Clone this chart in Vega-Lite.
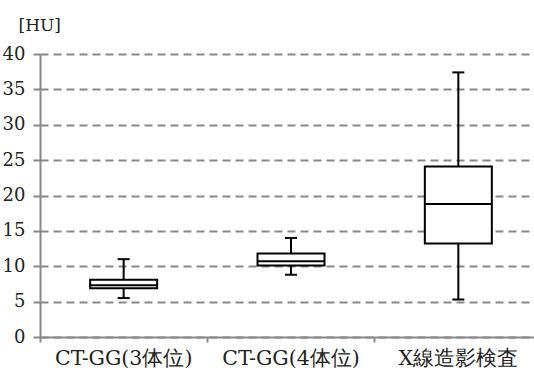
{
  "$schema": "https://vega.github.io/schema/vega-lite/v6.json",
  "width": 494,
  "height": 283,
  "autosize": {"type": "none"},
  "padding": {"left": 40, "top": 54, "right": 0, "bottom": 35},
  "background": "white",
  "config": {
    "view": {"stroke": null},
    "axisY": {
      "tickCount": 8,
      "labelFont": "DejaVu Serif", "labelFontSize": 18, "labelColor": "#222222", "labelPadding": 8,
      "domainColor": "#888888", "domainWidth": 2,
      "tickColor": "#888888", "tickWidth": 2, "tickSize": 7,
      "grid": true, "gridColor": "#888888", "gridWidth": 2, "gridDash": [8, 5]
    }
  },
  "data": {"values": [
    {"cat": "CT-GG(3体位)", "min": 5.5, "q1": 6.9, "median": 7.3, "q3": 8.1, "max": 11.0},
    {"cat": "CT-GG(4体位)", "min": 8.8, "q1": 10.1, "median": 10.7, "q3": 11.8, "max": 14.0},
    {"cat": "X線造影検査", "min": 5.3, "q1": 13.2, "median": 18.8, "q3": 24.1, "max": 37.4}
  ]},
  "encoding": {
    "x": {
      "field": "cat", "type": "nominal", "sort": null,
      "scale": {"range": [0, 502], "paddingInner": 0, "paddingOuter": 0},
      "axis": {
        "title": null, "labelAngle": 0, "bandPosition": 0,
        "domainColor": "#888888", "domainWidth": 2,
        "tickColor": "#888888", "tickWidth": 2, "tickSize": 5,
        "labelFont": "DejaVu Serif", "labelFontSize": 20.5,
        "labelColor": "#222222", "labelPadding": 6
      }
    }
  },
  "layer": [
    {
      "mark": {"type": "rule", "color": "black", "strokeWidth": 2},
      "encoding": {
        "y": {
          "field": "min", "type": "quantitative",
          "scale": {"domain": [0, 40], "nice": false},
          "axis": {
            "title": "[HU]", "titleAngle": 0, "titleAlign": "left", "titleBaseline": "alphabetic",
            "titleX": -22, "titleY": -24,
            "titleFont": "DejaVu Serif", "titleFontSize": 17, "titleFontWeight": "normal", "titleColor": "#222222"
          }
        },
        "y2": {"field": "max"}
      }
    },
    {
      "mark": {"type": "bar", "fill": "white", "stroke": "black", "strokeWidth": 2, "size": 67},
      "encoding": {
        "y": {"field": "q1", "type": "quantitative"},
        "y2": {"field": "q3"}
      }
    },
    {
      "mark": {"type": "tick", "color": "black", "opacity": 1, "size": 67, "thickness": 2},
      "encoding": {"y": {"field": "median", "type": "quantitative"}}
    },
    {
      "mark": {"type": "tick", "color": "black", "opacity": 1, "size": 12, "thickness": 2},
      "encoding": {"y": {"field": "min", "type": "quantitative"}}
    },
    {
      "mark": {"type": "tick", "color": "black", "opacity": 1, "size": 12, "thickness": 2},
      "encoding": {"y": {"field": "max", "type": "quantitative"}}
    }
  ]
}
